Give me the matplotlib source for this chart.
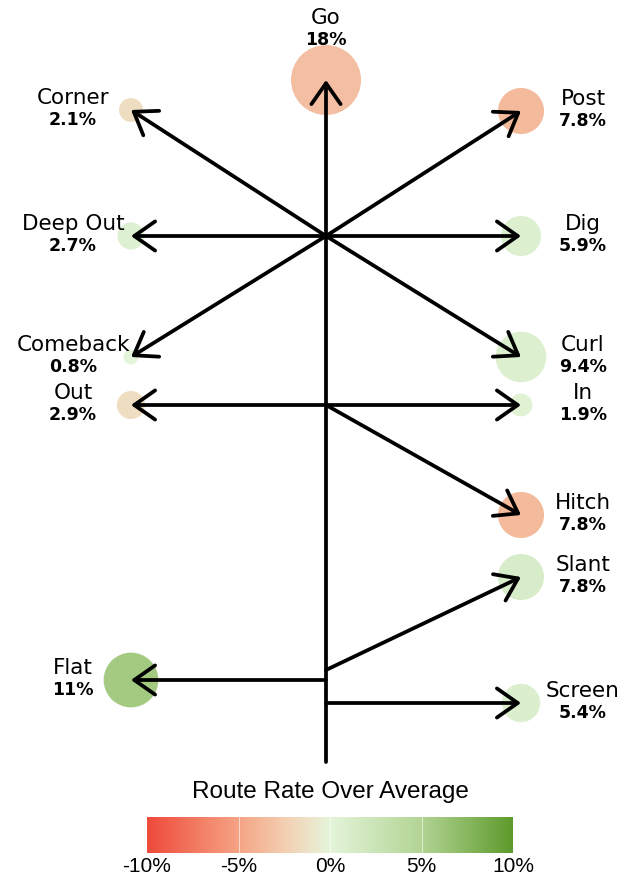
import numpy as np
import matplotlib.pyplot as plt
from matplotlib.colors import LinearSegmentedColormap, Normalize
from matplotlib.cm import ScalarMappable
from matplotlib.patches import FancyArrowPatch

# Route data
routes = ['Go', 'Corner', 'Post', 'Deep Out', 'Dig', 'Comeback', 'Curl',
          'Out', 'In', 'Hitch', 'Slant', 'Flat', 'Screen']
route_pct = [18, 2.1, 7.8, 2.7, 5.9, 0.8, 9.4, 2.9, 1.9, 7.8, 7.8, 11, 5.4]
pct_labels = ['18%', '2.1%', '7.8%', '2.7%', '5.9%', '0.8%', '9.4%',
              '2.9%', '1.9%', '7.8%', '7.8%', '11%', '5.4%']
# rate over league average (estimated from colours)
over_avg = [-3.4, -1.5, -3.6, 0.7, 0.8, 0.0, 0.8, -1.5, 0.4, -3.6, 1.3, 5.8, 0.9]

# route tree layout (drawing units, y grows downward)
route_start = [(326, 762), (326, 236), (326, 236), (326, 236), (326, 236),
               (326, 236), (326, 236), (326, 405), (326, 405), (326, 405),
               (326, 670), (326, 680), (326, 703)]
route_end = [(326, 80), (131, 110), (521, 111), (131, 236), (521, 236),
             (131, 357), (521, 357), (131, 405), (521, 405), (521, 515),
             (521, 577), (131, 680), (521, 703)]

cmap = LinearSegmentedColormap.from_list(
    'rate', [(0.0, '#ef4a3a'), (0.25, '#f5a384'), (0.4, '#f2d6ba'),
             (0.5, '#e4f4da'), (0.75, '#b2d494'), (1.0, '#5d9a2b')])
norm = Normalize(-10, 10)

fig = plt.figure(figsize=(6.32, 8.77), dpi=100)
ax = fig.add_axes([0, 0, 1, 1])
ax.set_xlim(0, 632)
ax.set_ylim(877, 0)
ax.axis('off')

ex = [e[0] for e in route_end]
ey = [e[1] for e in route_end]
sizes = [141 * p for p in route_pct]
ax.scatter(ex, ey, s=sizes, c=over_avg, cmap=cmap, norm=norm,
           linewidths=0, zorder=1)

for name, lab, s, e in zip(routes, pct_labels, route_start, route_end):
    arr = FancyArrowPatch(s, e, arrowstyle='->,head_length=0.6,head_width=0.42',
                          mutation_scale=25, lw=2.7, color='black',
                          shrinkA=0, shrinkB=0, zorder=3)
    ax.add_patch(arr)
    if name == 'Go':
        tx, ty = e[0], e[1] - 62
    elif e[0] < 326:
        tx, ty = e[0] - 58, e[1] - 12
    else:
        tx, ty = e[0] + 62, e[1] - 12
    ax.text(tx, ty, name, ha='center', va='center', fontsize=15.5,
            family='DejaVu Sans', zorder=4)
    ax.text(tx, ty + 22, lab, ha='center', va='center', fontsize=12.5,
            fontweight='bold', family='DejaVu Sans', zorder=4)

# colour bar
cax = fig.add_axes([147 / 632, 1 - 853 / 877, 366 / 632, 36 / 877])
cb = fig.colorbar(ScalarMappable(norm=norm, cmap=cmap), cax=cax,
                  orientation='horizontal', ticks=[-10, -5, 0, 5, 10])
cb.outline.set_visible(False)
cb.ax.set_xticklabels(['-10%', '-5%', '0%', '5%', '10%'],
                      family='Liberation Sans', fontsize=15)
cb.ax.tick_params(length=0, pad=3)
for t in [-5, 0, 5]:
    cax.axvline(t, color='white', lw=0.6, alpha=0.7)
cax.set_title('Route Rate Over Average', family='Liberation Sans',
              fontsize=17.5, pad=14)

fig.savefig('out.png', dpi=100)
